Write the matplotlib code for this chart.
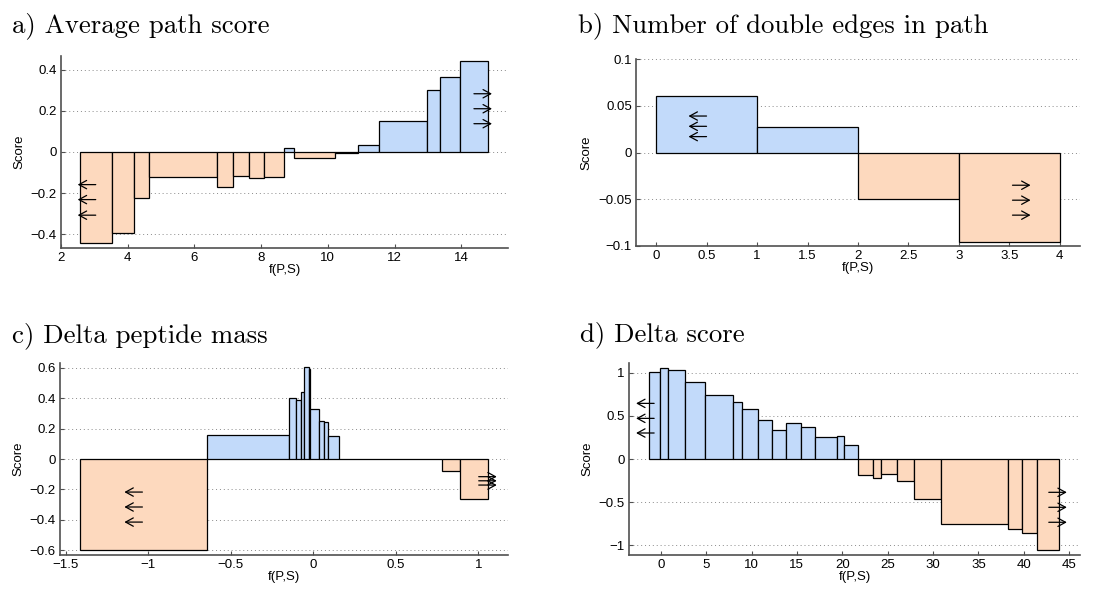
import matplotlib
matplotlib.use("Agg")
import matplotlib.pyplot as plt
from matplotlib.ticker import FuncFormatter

plt.rcParams["font.family"] = ["Liberation Sans", "DejaVu Sans"]

# bin edges (n+1) and scores (n) per panel
a_edges  = [2.57, 3.54, 4.19, 4.65, 6.68, 7.17, 7.65, 8.10, 8.68, 8.97,
            10.20, 10.90, 11.52, 12.96, 13.37, 13.96, 14.80]
a_scores = [-0.445, -0.396, -0.226, -0.120, -0.169, -0.118, -0.127, -0.123,
            0.018, -0.029, -0.006, 0.036, 0.153, 0.304, 0.368, 0.445]

b_edges  = [0, 1, 2, 3, 4]
b_scores = [0.0599, 0.0278, -0.0492, -0.0955]

c_edges  = [-1.413, -0.646, -0.147, -0.105, -0.076, -0.054, -0.026, -0.018,
            0.035, 0.063, 0.089, 0.155, 0.777, 0.888, 1.056]
c_scores = [-0.598, 0.158, 0.398, 0.389, 0.442, 0.602, 0.589, 0.327,
            0.248, 0.244, 0.152, -0.002, -0.079, -0.261]

d_edges  = [-1.25, -0.04, 0.85, 2.72, 4.89, 7.97, 8.93, 10.76, 12.31, 13.85,
            15.43, 17.01, 19.40, 20.17, 21.79, 23.44, 24.28, 26.08, 27.88,
            30.90, 38.24, 39.79, 41.44, 43.94]
d_scores = [1.010, 1.060, 1.029, 0.897, 0.739, 0.662, 0.580, 0.453, 0.337,
            0.414, 0.368, 0.259, 0.267, 0.159, -0.190, -0.217, -0.170, -0.251,
            -0.460, -0.750, -0.812, -0.858, -1.060]

titles = ["a) Average path score", "b) Number of double edges in path",
          "c) Delta peptide mass", "d) Delta score"]

POS_COLOR = "#C2DAFA"
NEG_COLOR = "#FDD9BE"
AX_COLOR  = "#505050"
ARROW_LEN = 13  # points

W, H = 1117, 592

# arrow tips: (x of tip, [y, ...])
panels = [
    dict(edges=a_edges, scores=a_scores, box=(61, 508, 56, 248),
         xlim=(2, 15.4), ylim=(-0.468, 0.468),
         xticks=[2, 4, 6, 8, 10, 12, 14], yticks=[-0.4, -0.2, 0, 0.2, 0.4],
         left=(2.50, [-0.159, -0.232, -0.308]), right=(14.92, [0.284, 0.211, 0.138]),
         title_xy=(12, 32)),
    dict(edges=b_edges, scores=b_scores, box=(636, 1080, 59, 246),
         xlim=(-0.2, 4.2), ylim=(-0.1, 0.1),
         xticks=[0, 0.5, 1, 1.5, 2, 2.5, 3, 3.5, 4],
         yticks=[-0.1, -0.05, 0, 0.05, 0.1],
         left=(0.32, [0.039, 0.028, 0.017]), right=(3.71, [-0.035, -0.051, -0.067]),
         title_xy=(578, 32)),
    dict(edges=c_edges, scores=c_scores, box=(60, 508, 363, 555),
         xlim=(-1.535, 1.18), ylim=(-0.63, 0.63),
         xticks=[-1.5, -1, -0.5, 0, 0.5, 1],
         yticks=[-0.6, -0.4, -0.2, 0, 0.2, 0.4, 0.6],
         left=(-1.145, [-0.217, -0.315, -0.414]), right=(1.112, [-0.116, -0.143, -0.171]),
         title_xy=(12, 342)),
    dict(edges=d_edges, scores=d_scores, box=(629, 1080, 363, 555),
         xlim=(-3.5, 46.2), ylim=(-1.115, 1.115),
         xticks=[0, 5, 10, 15, 20, 25, 30, 35, 40, 45],
         yticks=[-1, -0.5, 0, 0.5, 1],
         left=(-2.72, [0.646, 0.472, 0.302]), right=(44.75, [-0.387, -0.561, -0.735]),
         title_xy=(580, 341)),
]


def fmt(v, _):
    if abs(v) < 1e-12:
        return "0"
    return f"{v:g}".replace("-", "\u2212")


arrow_props = dict(arrowstyle="->,head_length=0.55,head_width=0.3",
                   color="black", linewidth=0.9, shrinkA=0, shrinkB=0)

fig = plt.figure(figsize=(W / 100, H / 100), dpi=100)

for p, title in zip(panels, titles):
    l, r, t, b = p["box"]
    ax = fig.add_axes([l / W, 1 - b / H, (r - l) / W, (b - t) / H])

    edges, scores = p["edges"], p["scores"]
    widths = [edges[i + 1] - edges[i] for i in range(len(scores))]
    colors = [POS_COLOR if s > 0 else NEG_COLOR for s in scores]
    ax.bar(edges[:-1], scores, width=widths, align="edge", color=colors,
           edgecolor="black", linewidth=0.9, zorder=2)

    ax.set_xlim(*p["xlim"])
    ax.set_ylim(*p["ylim"])
    ax.set_xticks(p["xticks"])
    ax.set_yticks(p["yticks"])
    ax.xaxis.set_major_formatter(FuncFormatter(fmt))
    ax.yaxis.set_major_formatter(FuncFormatter(fmt))

    ax.grid(axis="y", linestyle=(0, (1, 3)), color="#8a8a8a", linewidth=0.7)
    ax.set_axisbelow(True)

    for side in ["top", "right"]:
        ax.spines[side].set_visible(False)
    for side in ["left", "bottom"]:
        ax.spines[side].set_color(AX_COLOR)
        ax.spines[side].set_linewidth(1.2)
    ax.tick_params(direction="in", length=3, width=0.8, color=AX_COLOR,
                   labelsize=9.5, pad=3)

    ax.set_xlabel("f(P,S)", fontsize=9.5, labelpad=0)
    ax.set_ylabel("Score", fontsize=9.5, labelpad=4)

    # direction arrows (open-ended first / last bins)
    lx, lys = p["left"]
    for y in lys:
        ax.annotate("", xy=(lx, y), xytext=(ARROW_LEN, 0), textcoords="offset points",
                    arrowprops=arrow_props, zorder=3)
    rx, rys = p["right"]
    for y in rys:
        ax.annotate("", xy=(rx, y), xytext=(-ARROW_LEN, 0), textcoords="offset points",
                    arrowprops=arrow_props, zorder=3)

    tx, ty = p["title_xy"]
    fig.text(tx / W, 1 - ty / H, title, fontfamily="cmr10", fontsize=19.3,
             ha="left", va="baseline")

fig.savefig("out.png", dpi=100)
